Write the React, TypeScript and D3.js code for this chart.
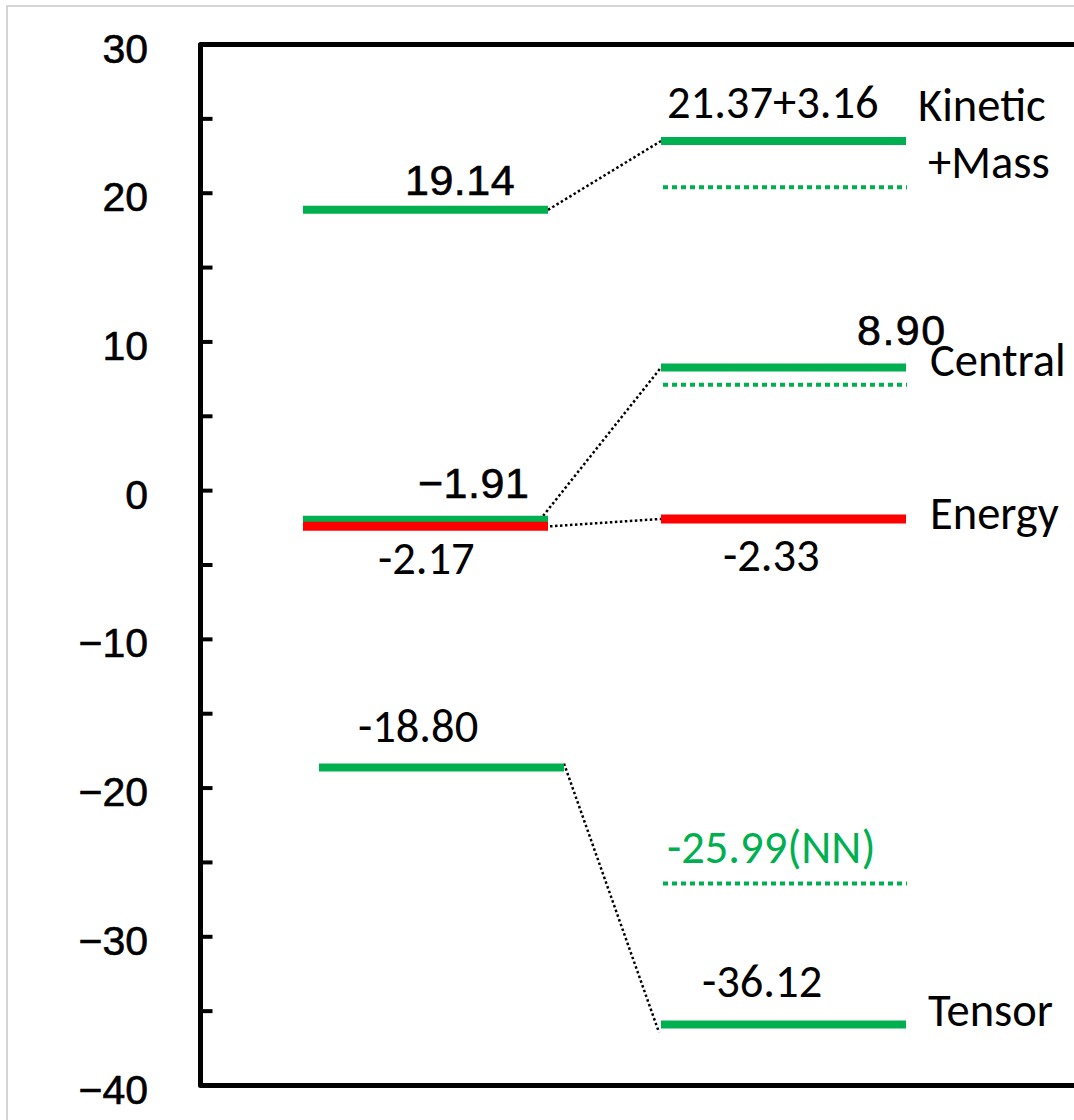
import React from "react";
import * as d3 from "d3";

// ---- data ----
const levelNames = [
  "Kinetic+Mass L", "Kinetic+Mass R", "Kinetic+Mass R (NN)",
  "Central L", "Central R", "Central R (NN)",
  "Energy L", "Energy R",
  "Tensor L", "Tensor R (NN)", "Tensor R",
];
const levelValues = [18.88, 23.51, 20.4, -1.96, 8.28, 7.12, -2.4, -1.9, -18.62, -26.42, -35.89];
const levelColumn = [0, 1, 1, 0, 1, 1, 0, 1, 0, 1, 1];
const levelKind = ["solid", "solid", "dotted", "solid", "solid", "dotted", "red", "red", "solid", "dotted", "solid"];
// connectors: [from level, to level]
const connectors: [number, number][] = [[0, 1], [3, 4], [6, 7], [8, 10]];
const yTickValues = d3.range(-40, 31, 5);
const yTickLabels = [-40, -30, -20, -10, 0, 10, 20, 30];

const labelTexts = ["19.14", "21.37+3.16", "Kinetic", "+Mass", "8.90", "Central", "\u22121.91", "-2.17", "Energy", "-2.33", "-18.80", "-25.99(NN)", "-36.12", "Tensor"];
const labelLevel = [0, 1, 1, 1, 4, 4, 3, 6, 7, 7, 8, 9, 10, 10];

// ---- layout ----
const W = 1074, H = 1120;
const axisX = 200.5, axisTop = 44.5, axisBottom = 1085.5;
const colStart = [303, 661];
const barLen = 245;
const GREEN = "#00b050", RED = "#ff0000";
const ARIAL = "'Liberation Sans', Arial, Helvetica, sans-serif";
const CAL = "Carlito, Calibri, Lato, sans-serif";
const CS = 46.5;
// per label: x, dy (from level), font, size, color
const labelLayout = [
  { x: 405, dy: -15, f: ARIAL, s: 43, ls: 0.5 },
  { x: 667, dy: -23, f: CAL, s: CS },
  { x: 918, dy: -20, f: CAL, s: CS },
  { x: 928, dy: 37, f: CAL, s: CS },
  { x: 857, dy: -23, f: ARIAL, s: 43, ls: 1.5 },
  { x: 930, dy: 8, f: CAL, s: CS },
  { x: 418, dy: -22, f: ARIAL, s: 43, ls: 0.5 },
  { x: 378, dy: 48, f: CAL, s: CS },
  { x: 930, dy: 10, f: CAL, s: CS },
  { x: 723, dy: 52, f: CAL, s: CS },
  { x: 358, dy: -26, f: CAL, s: CS },
  { x: 667, dy: -21, f: CAL, s: CS, c: GREEN },
  { x: 702, dy: -27, f: CAL, s: CS },
  { x: 928, dy: 2, f: CAL, s: CS },
];
const colOffset = (i: number) => (i === 8 ? 16 : 0);

export default function App() {
  const y = d3.scaleLinear().domain([-40, 30]).range([axisBottom, axisTop]);
  const fmt = (v: number) => d3.format("d")(v);

  const barX0 = (i: number) => colStart[levelColumn[i]] + colOffset(i);
  const barX1 = (i: number) => barX0(i) + barLen;

  return (
    <svg width={W} height={H} style={{ position: "absolute", left: 0, top: 0, background: "#fff" }}>
      <rect x={7} y={6} width={W} height={H} fill="#fff" stroke="#c8c8c8" strokeWidth={1.5} />
      {/* axis frame */}
      <path
        d={`M${W},${axisTop}H${axisX}V${axisBottom}H${W}`}
        fill="none" stroke="#000" strokeWidth={5} strokeLinejoin="round"
      />
      {yTickValues.map((t) => (
        <line key={t} x1={axisX} x2={axisX + 12} y1={y(t)} y2={y(t)} stroke="#000" strokeWidth={4} />
      ))}
      {yTickLabels.map((t) => (
        <text key={t} x={148} y={y(t) + 18} textAnchor="end" fontFamily={ARIAL} fontSize={41} fill="#000"
          stroke="#000" strokeWidth={0.6}>
          {fmt(t)}
        </text>
      ))}
      {/* connectors */}
      {connectors.map(([a, b], k) => {
        const sx = k === 1 ? barX1(a) - 8 : barX1(a) + (k === 2 ? 2 : 0);
        const sy = y(levelValues[a]) + (k === 3 ? -4 : 0);
        const ex = barX0(b) - (k === 3 ? 2 : 0);
        const ey = y(levelValues[b]) + (k === 3 ? 8 : 0);
        return (
          <line key={k} x1={sx} y1={sy} x2={ex} y2={ey} stroke="#000" strokeWidth={2.5} strokeDasharray="2.5 2.5" />
        );
      })}
      {/* levels */}
      {levelNames.map((n, i) => {
        const kind = levelKind[i];
        const isDot = kind === "dotted";
        return (
          <line
            key={n}
            x1={barX0(i) + (isDot ? 2 : 0)}
            x2={barX1(i) + (isDot ? 1 : 0)}
            y1={y(levelValues[i])}
            y2={y(levelValues[i])}
            stroke={kind === "red" ? RED : GREEN}
            strokeWidth={isDot ? 4 : kind === "red" ? 9 : 8}
            strokeDasharray={isDot ? "5 4" : undefined}
          />
        );
      })}
      {/* labels */}
      {labelTexts.map((t, k) => {
        const L = labelLayout[k] as any;
        const isArial = L.f === ARIAL;
        return (
          <text
            key={k}
            x={L.x}
            y={y(levelValues[labelLevel[k]]) + L.dy}
            fontFamily={L.f}
            fontSize={L.s}
            fill={L.c || "#000"}
            letterSpacing={L.ls || 0}
            stroke={isArial ? "#000" : undefined}
            strokeWidth={isArial ? 0.6 : undefined}
          >
            {t}
          </text>
        );
      })}
    </svg>
  );
}
